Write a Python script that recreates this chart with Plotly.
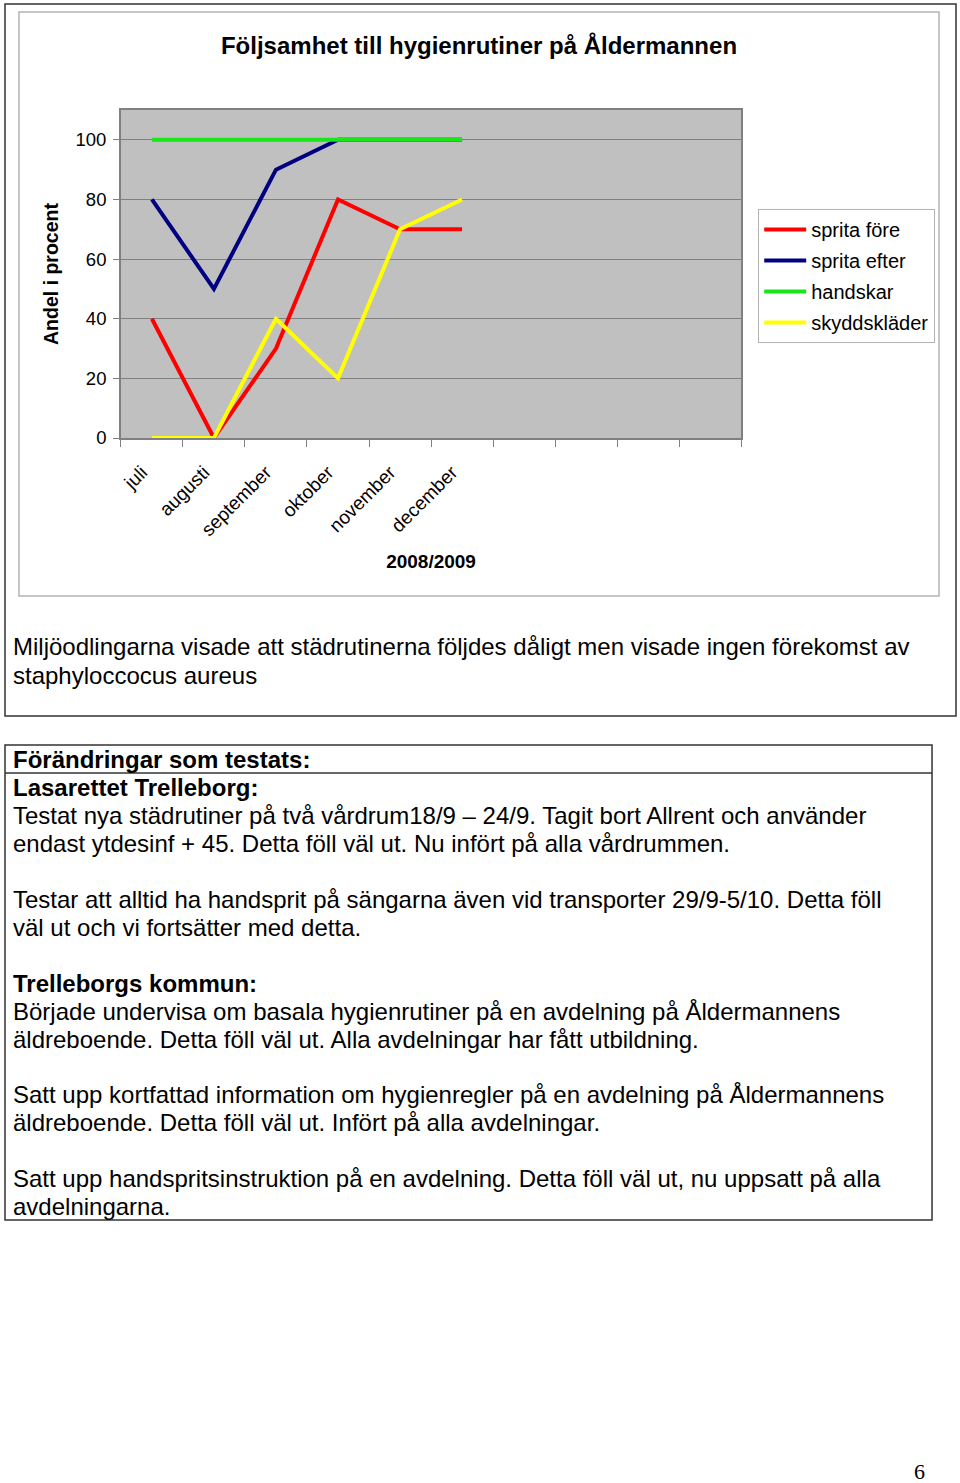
import plotly.graph_objects as go

# ---------------- data ----------------
months = ["juli", "augusti", "september", "oktober", "november", "december"]
empty_slots = [" ", "  ", "   ", "    "]          # unlabeled categories on the axis
sprita_fore = [40, 0, 30, 80, 70, 70]
sprita_efter = [80, 50, 90, 100, 100, 100]
handskar = [100, 100, 100, 100, 100, 100]
skyddsklader = [0, 0, 40, 20, 70, 80]
y_ticks = [0, 20, 40, 60, 80, 100]

series_names = ["sprita före", "sprita efter", "handskar", "skyddskläder"]
series_values = [sprita_fore, sprita_efter, handskar, skyddsklader]
series_colors = ["#FF0000", "#000080", "#19E619", "#FFFF00"]

chart_title = "Följsamhet till hygienrutiner på Åldermannen"
y_title = "Andel i procent"
x_title = "2008/2009"

box1_lines = [
    "Miljöodlingarna visade att städrutinerna följdes dåligt men visade ingen förekomst av",
    "staphyloccocus aureus",
]
box2_lines = [
    ("Förändringar som testats:", True),
    ("Lasarettet Trelleborg:", True),
    ("Testat nya städrutiner på två vårdrum18/9 – 24/9. Tagit bort Allrent och använder", False),
    ("endast ytdesinf + 45. Detta föll väl ut. Nu infört på alla vårdrummen.", False),
    ("", False),
    ("Testar att alltid ha handsprit på sängarna även vid transporter 29/9-5/10. Detta föll", False),
    ("väl ut och vi fortsätter med detta.", False),
    ("", False),
    ("Trelleborgs kommun:", True),
    ("Började undervisa om basala hygienrutiner på en avdelning på Åldermannens", False),
    ("äldreboende. Detta föll väl ut. Alla avdelningar har fått utbildning.", False),
    ("", False),
    ("Satt upp kortfattad information om hygienregler på en avdelning på Åldermannens", False),
    ("äldreboende. Detta föll väl ut. Infört på alla avdelningar.", False),
    ("", False),
    ("Satt upp handspritsinstruktion på en avdelning. Detta föll väl ut, nu uppsatt på alla", False),
    ("avdelningarna.", False),
]
page_number = "6"

# ---------------- layout helpers ----------------
W = 960
FIG_H = 1493          # figure height
REF_H = 1483          # target picture height used for placement
FONT = "Liberation Sans, Arial, sans-serif"


def px(x):
    return x / W


def py(y):
    return 1 - y / REF_H


fig = go.Figure()
for name, vals, col in zip(series_names, series_values, series_colors):
    fig.add_trace(go.Scatter(
        x=months, y=vals, name=name, mode="lines", legendgroup=name,
        line=dict(color=col, width=4),
    ))

TEXT_DY = 0
annotations = []
for i, line in enumerate(box1_lines):
    annotations.append(dict(
        text=line, x=px(10), y=py(647 + TEXT_DY + i * 28), xref="paper", yref="paper",
        xanchor="left", yanchor="middle", showarrow=False,
        font=dict(family=FONT, size=24, color="#000000"),
    ))
for i, (line, bold) in enumerate(box2_lines):
    if not line:
        continue
    annotations.append(dict(
        text=f"<b>{line}</b>" if bold else line,
        x=px(10), y=py(760 + TEXT_DY + i * 27.9), xref="paper", yref="paper",
        xanchor="left", yanchor="middle", showarrow=False,
        font=dict(family=FONT, size=24, color="#000000"),
    ))
annotations.append(dict(
    text=page_number, x=px(919), y=py(1471), xref="paper", yref="paper",
    xanchor="center", yanchor="middle", showarrow=False,
    font=dict(family="Liberation Serif, Times New Roman, serif", size=22, color="#000000"),
))

shapes = [
    dict(type="rect", xref="paper", yref="paper", x0=px(4), x1=px(956), y0=py(4), y1=py(716),
         line=dict(color="#333333", width=1.5), layer="below"),
    dict(type="rect", xref="paper", yref="paper", x0=px(18), x1=px(939), y0=py(12), y1=py(596),
         line=dict(color="#B4B4B4", width=1.5), layer="below"),
    dict(type="rect", xref="paper", yref="paper", x0=px(4), x1=px(932), y0=py(745), y1=py(1220),
         line=dict(color="#333333", width=1.5), layer="below"),
    dict(type="line", xref="paper", yref="paper", x0=px(4), x1=px(932), y0=py(773), y1=py(773),
         line=dict(color="#333333", width=1.5), layer="below"),
]

fig.update_layout(
    width=W, height=FIG_H,
    margin=dict(l=0, r=0, t=0, b=0),
    paper_bgcolor="#FFFFFF",
    plot_bgcolor="#C0C0C0",
    font=dict(family=FONT, size=18, color="#000000"),
    title=dict(text=f"<b>{chart_title}</b>", x=px(479), y=py(45), xanchor="center", yanchor="middle",
               font=dict(family=FONT, size=24, color="#000000")),
    xaxis=dict(
        domain=[px(120), px(741)],
        type="category",
        categoryorder="array", categoryarray=months + empty_slots,
        range=[-0.5, 9.5],
        tickson="boundaries",
        ticks="outside", ticklen=7, tickcolor="#808080", tickwidth=1,
        tickangle=-45,
        ticklabelstandoff=14, ticklabelshift=-10,
        tickfont=dict(family=FONT, size=19, color="#000000"),
        showline=True, linecolor="#808080", linewidth=1.5, mirror=True,
        showgrid=False, zeroline=False,
        title=dict(text=f"<b>{x_title}</b>", font=dict(family=FONT, size=19, color="#000000"), standoff=16),
    ),
    yaxis=dict(
        domain=[py(438), py(110)],
        range=[0, 110],
        tickvals=y_ticks,
        ticks="outside", ticklen=6, tickcolor="#808080", tickwidth=1,
        ticklabelstandoff=3,
        tickfont=dict(family=FONT, size=18.5, color="#000000"),
        showline=True, linecolor="#808080", linewidth=1.5, mirror=True,
        showgrid=True, gridcolor="#808080", gridwidth=1,
        zeroline=False,
        title=dict(text=f"<b>{y_title}</b>", font=dict(family=FONT, size=19.5, color="#000000"), standoff=12),
    ),
    legend=dict(
        x=px(758), y=py(209), xanchor="left", yanchor="top",
        bgcolor="#FFFFFF", bordercolor="#B4B4B4", borderwidth=1,
        font=dict(family=FONT, size=20, color="#000000"),
        traceorder="grouped", tracegroupgap=2, itemwidth=42,
    ),
    annotations=annotations,
    shapes=shapes,
    showlegend=True,
)

fig.write_html("out.html", config={"displayModeBar": False},
               post_script="document.body.style.margin='0';")
